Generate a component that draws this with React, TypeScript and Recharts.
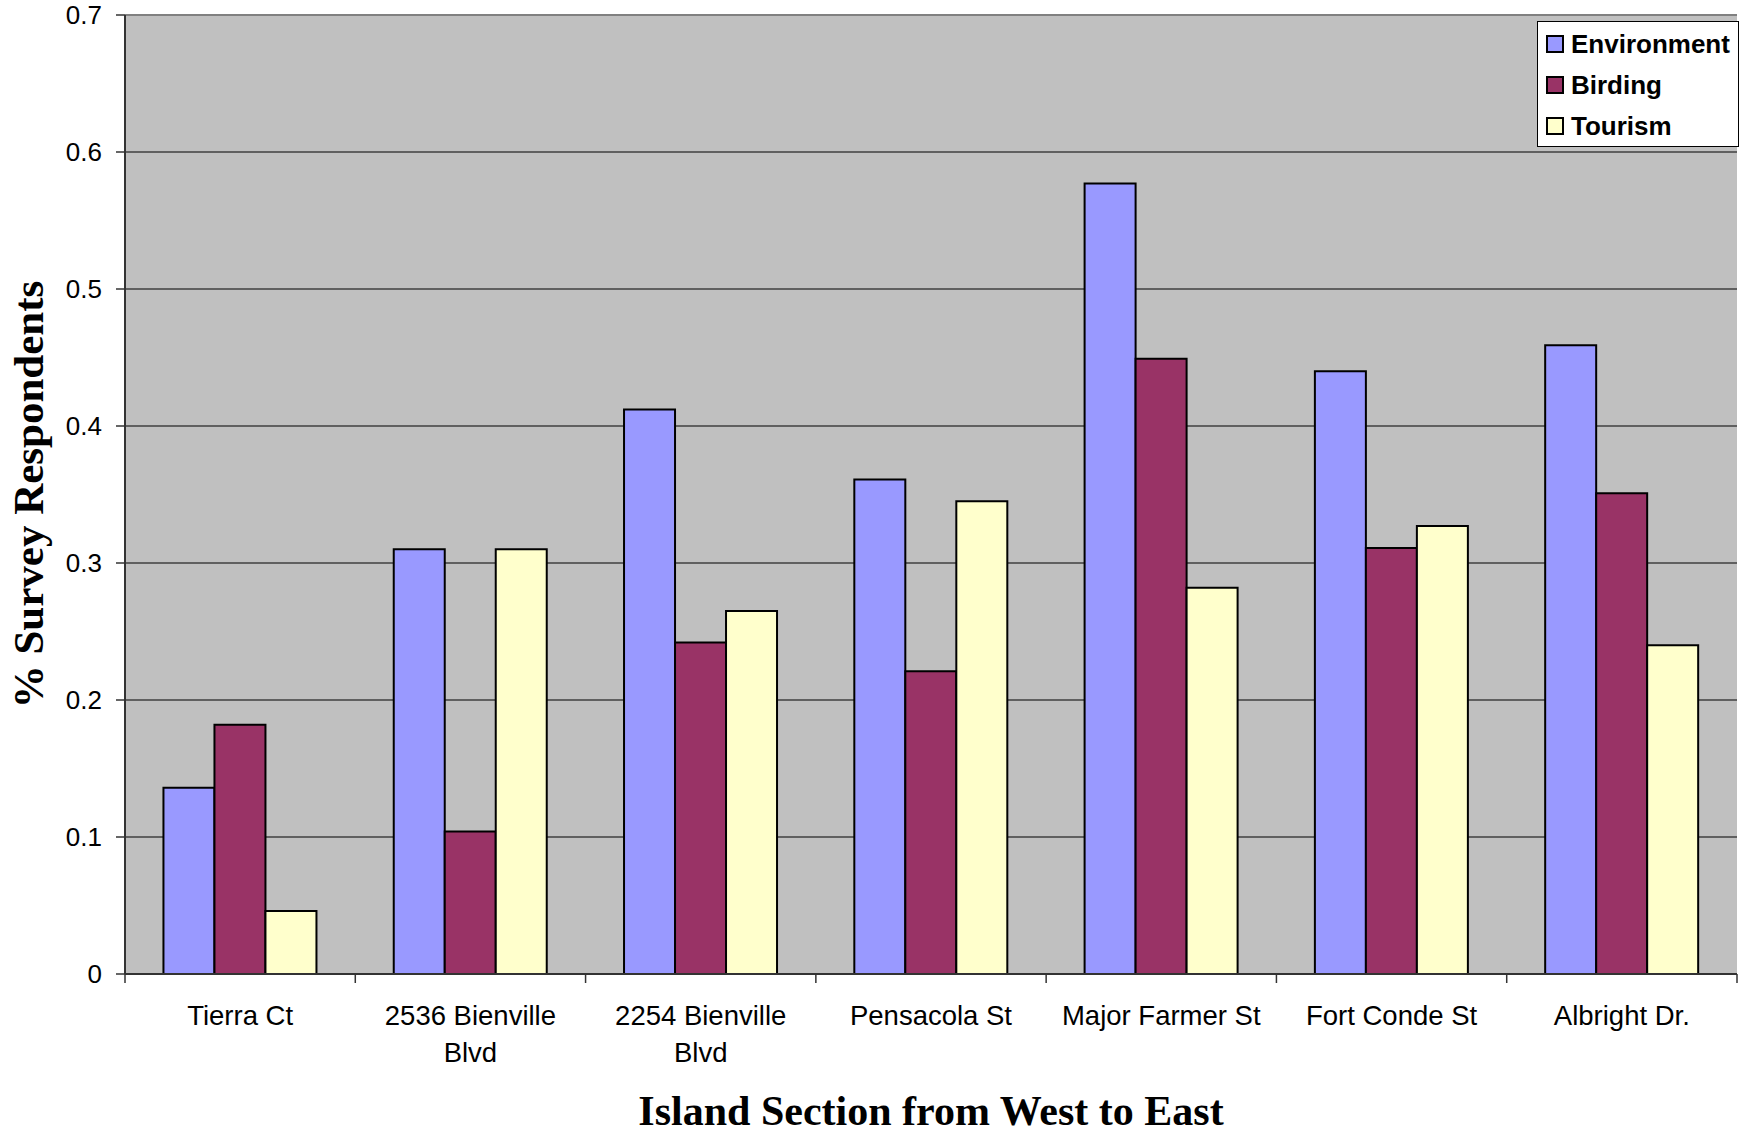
import React from "react";
import {
  BarChart, Bar, XAxis, YAxis, CartesianGrid, Legend, Label, ReferenceLine,
} from "recharts";

const categories = [
  "Tierra Ct", "2536 Bienville Blvd", "2254 Bienville Blvd", "Pensacola St",
  "Major Farmer St", "Fort Conde St", "Albright Dr.",
];
const tickLabels = [
  ["Tierra Ct"], ["2536 Bienville", "Blvd"], ["2254 Bienville", "Blvd"], ["Pensacola St"],
  ["Major Farmer St"], ["Fort Conde St"], ["Albright Dr."],
];
const seriesNames = ["Environment", "Birding", "Tourism"];
const environment = [0.136, 0.31, 0.412, 0.361, 0.577, 0.44, 0.459];
const birding = [0.182, 0.104, 0.242, 0.221, 0.449, 0.311, 0.351];
const tourism = [0.046, 0.31, 0.265, 0.345, 0.282, 0.327, 0.24];
const yTicks = [0, 0.1, 0.2, 0.3, 0.4, 0.5, 0.6, 0.7];

const data = categories.map((name, i) => ({
  name, environment: environment[i], birding: birding[i], tourism: tourism[i],
}));

const W = 1751;
const H = 1133;
const X_AXIS_H = 60;
const Y_AXIS_W = 110;
const MARGIN = { top: 15, right: 14, bottom: 159 - X_AXIS_H, left: 15 };
const PLOT_W = W - MARGIN.left - Y_AXIS_W - MARGIN.right;
const BAND = PLOT_W / categories.length;

const SANS = "'Liberation Sans', Arial, sans-serif";
const SERIF = "'Liberation Serif', 'Times New Roman', serif";
const AXIS_DARK = "#333";

function XTick(props: any) {
  const { x, y, index } = props;
  const lines = tickLabels[index] || [];
  const last = index === categories.length - 1;
  return (
    <g>
      <line x1={x - BAND / 2} x2={x - BAND / 2} y1={y} y2={y + 9} stroke={AXIS_DARK} strokeWidth={1.5} />
      {last && <line x1={x + BAND / 2} x2={x + BAND / 2} y1={y} y2={y + 9} stroke={AXIS_DARK} strokeWidth={1.5} />}
      {lines.map((t: string, i: number) => (
        <text key={i} x={x} y={y + 51 + i * 36.5} textAnchor="middle"
          style={{ fontFamily: SANS, fontSize: 27.5, fill: "#000" }}>{t}</text>
      ))}
    </g>
  );
}

function LegendBox({ payload }: any) {
  const items = [...(payload || [])].sort(
    (a: any, b: any) => seriesNames.indexOf(a.value) - seriesNames.indexOf(b.value),
  );
  return (
    <div style={{
      width: 200, height: 124, background: "#fff", border: "1px solid #000",
      fontFamily: SANS, fontWeight: "bold", fontSize: 26, color: "#000", position: "relative",
    }}>
      {items.map((p: any, i: number) => (
        <div key={i} style={{ position: "absolute", left: 8, top: 22 + i * 41 - 15, height: 30, display: "flex", alignItems: "center" }}>
          <span style={{ width: 14, height: 14, background: p.color, border: "2px solid #000", display: "inline-block", marginRight: 7 }} />
          <span>{p.value}</span>
        </div>
      ))}
    </div>
  );
}

export default function App() {
  return (
    <div style={{ position: "absolute", left: 0, top: 0, width: W, height: H, background: "#fff" }}>
      <BarChart width={W} height={H} data={data} margin={MARGIN} barCategoryGap="16.7%" barGap={0}>
        <CartesianGrid vertical={false} stroke="#000" strokeWidth={1} fill="#C0C0C0" fillOpacity={1} />
        <XAxis dataKey="name" tick={<XTick />} tickLine={false} tickSize={0} tickMargin={0} interval={0}
          axisLine={{ stroke: AXIS_DARK, strokeWidth: 2 }} height={X_AXIS_H}>
          <Label content={(p: any) => {
            const vb = p.viewBox || { x: 0, y: 0, width: 0 };
            return (
              <text x={vb.x + vb.width / 2} y={vb.y + 151} textAnchor="middle"
                style={{ fontFamily: SERIF, fontWeight: "bold", fontSize: 42, fill: "#000" }}>
                Island Section from West to East
              </text>
            );
          }} />
        </XAxis>
        <YAxis domain={[0, 0.7]} ticks={yTicks} width={Y_AXIS_W} tickSize={9} tickMargin={14}
          tick={{ fontFamily: SANS, fontSize: 26, fill: "#000" }}
          tickLine={{ stroke: AXIS_DARK, strokeWidth: 1.5 }} axisLine={{ stroke: AXIS_DARK, strokeWidth: 2 }}
          tickFormatter={(v: number) => String(v)}>
          <Label content={(p: any) => {
            const vb = p.viewBox || { x: 0, y: 0, height: 0 };
            const cy = vb.y + vb.height / 2;
            return (
              <text x={43} y={cy} textAnchor="middle" transform={`rotate(-90, 43, ${cy})`}
                style={{ fontFamily: SERIF, fontWeight: "bold", fontSize: 43, fill: "#000" }}>
                % Survey Respondents
              </text>
            );
          }} />
        </YAxis>
        <YAxis yAxisId="right" orientation="right" domain={[0, 0.7]} width={0} tick={false} tickLine={false}
          axisLine={{ stroke: "#808080", strokeWidth: 2 }} />
        <ReferenceLine y={0.7} stroke="#808080" strokeWidth={2} />
        <Legend layout="vertical" align="center" verticalAlign="middle" content={<LegendBox />}
          wrapperStyle={{ left: 1537, top: 21, width: 202, height: 126 }} />
        <Bar dataKey="environment" name="Environment" fill="#9999FF" stroke="#000" strokeWidth={2} isAnimationActive={false} />
        <Bar dataKey="birding" name="Birding" fill="#993366" stroke="#000" strokeWidth={2} isAnimationActive={false} />
        <Bar dataKey="tourism" name="Tourism" fill="#FFFFCC" stroke="#000" strokeWidth={2} isAnimationActive={false} />
      </BarChart>
    </div>
  );
}
